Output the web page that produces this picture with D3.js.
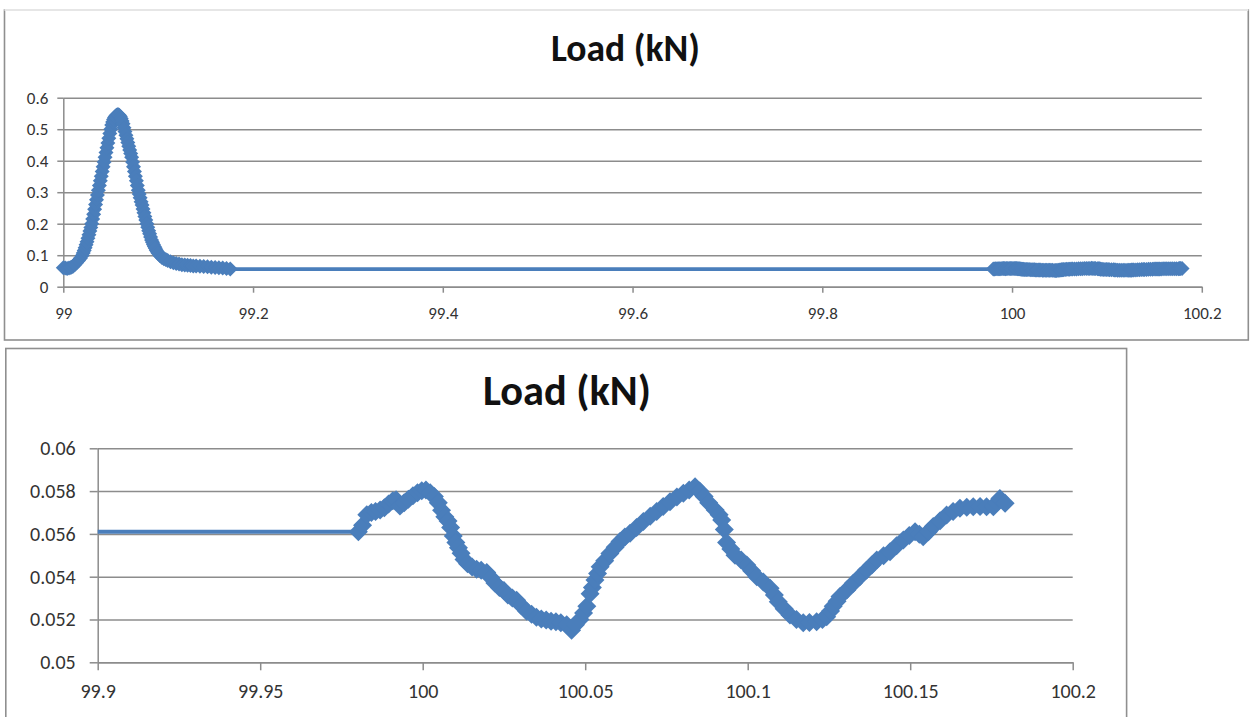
<!DOCTYPE html>
<html>
<head>
<meta charset="utf-8">
<script src="https://cdn.jsdelivr.net/npm/d3@7"></script>
<style>
  html, body { margin: 0; padding: 0; background: #fff; }
  svg { display: block; }
  text { font-family: Carlito, Calibri, Lato, "Open Sans", sans-serif; }
</style>
</head>
<body>
<svg id="chart" width="1252" height="717"></svg>
<script>
// Load trace: first loading pulse (position in mm, load in kN)
const pulsePosition = [
  99.000, 99.002, 99.004, 99.006, 99.008, 99.010, 99.012, 99.014, 99.016, 99.018,
  99.020, 99.021, 99.022, 99.023, 99.024, 99.025, 99.026, 99.027, 99.028, 99.029,
  99.030, 99.031, 99.032, 99.033, 99.034, 99.035, 99.036, 99.037, 99.038, 99.039,
  99.040, 99.041, 99.042, 99.043, 99.044, 99.045, 99.046, 99.047, 99.048, 99.049,
  99.050, 99.051, 99.052, 99.053, 99.054, 99.055, 99.056, 99.057, 99.058, 99.059,
  99.060, 99.061, 99.062, 99.063, 99.064, 99.065, 99.066, 99.067, 99.068, 99.069,
  99.070, 99.071, 99.072, 99.073, 99.074, 99.075, 99.076, 99.077, 99.078, 99.079,
  99.080, 99.081, 99.082, 99.083, 99.084, 99.085, 99.086, 99.087, 99.088, 99.089,
  99.090, 99.091, 99.092, 99.093, 99.094, 99.095, 99.096, 99.097, 99.098, 99.099,
  99.100, 99.102, 99.104, 99.106, 99.108, 99.110, 99.113, 99.116, 99.119, 99.122,
  99.125, 99.128, 99.131, 99.134, 99.137, 99.140, 99.144, 99.148, 99.152, 99.156,
  99.160, 99.164, 99.168, 99.172, 99.176
];
const pulseLoad = [
  0.060, 0.059, 0.058, 0.059, 0.061, 0.064, 0.070, 0.076, 0.083, 0.090,
  0.099, 0.107, 0.115, 0.124, 0.133, 0.143, 0.154, 0.165, 0.177, 0.188,
  0.200, 0.215, 0.230, 0.246, 0.261, 0.276, 0.291, 0.306, 0.321, 0.336,
  0.351, 0.366, 0.381, 0.396, 0.411, 0.426, 0.441, 0.456, 0.471, 0.486,
  0.500, 0.513, 0.523, 0.531, 0.537, 0.541, 0.544, 0.546, 0.546, 0.544,
  0.540, 0.534, 0.526, 0.517, 0.505, 0.493, 0.481, 0.470, 0.458, 0.446,
  0.434, 0.423, 0.411, 0.396, 0.381, 0.366, 0.351, 0.336, 0.321, 0.306,
  0.294, 0.282, 0.270, 0.259, 0.247, 0.235, 0.223, 0.212, 0.200, 0.189,
  0.178, 0.168, 0.158, 0.148, 0.141, 0.134, 0.128, 0.122, 0.116, 0.111,
  0.106, 0.098, 0.093, 0.089, 0.086, 0.083, 0.079, 0.076, 0.074, 0.072,
  0.070, 0.069, 0.068, 0.067, 0.066, 0.066, 0.065, 0.064, 0.063, 0.062,
  0.061, 0.060, 0.059, 0.058, 0.0561
];

// Load trace: low-level oscillation around 100 mm
const cyclePosition = [
  99.9802, 99.9815, 99.9828, 99.9842, 99.9855, 99.9869, 99.9882, 99.9895, 99.9908, 99.9918,
  99.9930, 99.9943, 99.9956, 99.9970, 99.9984, 99.9997, 100.0010, 100.0023, 100.0036, 100.0048,
  100.0058, 100.0068, 100.0078, 100.0086, 100.0094, 100.0102, 100.0110, 100.0118, 100.0127, 100.0138,
  100.0152, 100.0166, 100.0180, 100.0197, 100.0210, 100.0222, 100.0236, 100.0250, 100.0262, 100.0276,
  100.0289, 100.0303, 100.0320, 100.0335, 100.0350, 100.0365, 100.0380, 100.0395, 100.0410, 100.0425,
  100.0443, 100.0458, 100.0470, 100.0484, 100.0495, 100.0505, 100.0515, 100.0522, 100.0530, 100.0538,
  100.0546, 100.0560, 100.0576, 100.0592, 100.0607, 100.0622, 100.0638, 100.0658, 100.0679, 100.0700,
  100.0720, 100.0740, 100.0761, 100.0782, 100.0802, 100.0820, 100.0838, 100.0852, 100.0866, 100.0880,
  100.0900, 100.0912, 100.0920, 100.0928, 100.0935, 100.0948, 100.0961, 100.0980, 100.0997, 100.1012,
  100.1028, 100.1048, 100.1069, 100.1082, 100.1094, 100.1112, 100.1130, 100.1150, 100.1171, 100.1190,
  100.1212, 100.1230, 100.1243, 100.1255, 100.1263, 100.1275, 100.1284, 100.1305, 100.1325, 100.1345,
  100.1366, 100.1382, 100.1397, 100.1418, 100.1438, 100.1458, 100.1479, 100.1497, 100.1515, 100.1528,
  100.1540, 100.1556, 100.1571, 100.1592, 100.1612, 100.1632, 100.1653, 100.1674, 100.1694, 100.1715,
  100.1735, 100.1756, 100.1766, 100.1776, 100.1792
];
const cycleLoad = [
  0.05610, 0.05640, 0.05690, 0.05700, 0.05705, 0.05712, 0.05722, 0.05740, 0.05755, 0.05760,
  0.05730, 0.05745, 0.05762, 0.05778, 0.05792, 0.05802, 0.05805, 0.05792, 0.05775, 0.05745,
  0.05710, 0.05680, 0.05660, 0.05630, 0.05590, 0.05560, 0.05535, 0.05510, 0.05480, 0.05460,
  0.05445, 0.05435, 0.05430, 0.05420, 0.05395, 0.05370, 0.05350, 0.05335, 0.05315, 0.05300,
  0.05290, 0.05265, 0.05238, 0.05225, 0.05210, 0.05202, 0.05198, 0.05192, 0.05190, 0.05185,
  0.05175, 0.05150, 0.05175, 0.05200, 0.05230, 0.05262, 0.05320, 0.05350, 0.05385, 0.05415,
  0.05447, 0.05475, 0.05508, 0.05538, 0.05565, 0.05585, 0.05603, 0.05630, 0.05658, 0.05682,
  0.05705, 0.05728, 0.05750, 0.05772, 0.05790, 0.05805, 0.05820, 0.05800, 0.05775, 0.05745,
  0.05712, 0.05690, 0.05665, 0.05620, 0.05560, 0.05530, 0.05500, 0.05478, 0.05455, 0.05428,
  0.05400, 0.05375, 0.05346, 0.05315, 0.05283, 0.05250, 0.05221, 0.05200, 0.05185, 0.05186,
  0.05190, 0.05200, 0.05213, 0.05240, 0.05262, 0.05285, 0.05307, 0.05338, 0.05369, 0.05400,
  0.05431, 0.05455, 0.05478, 0.05498, 0.05517, 0.05545, 0.05571, 0.05592, 0.05610, 0.05598,
  0.05587, 0.05610, 0.05634, 0.05662, 0.05688, 0.05705, 0.05720, 0.05725, 0.05727, 0.05728,
  0.05727, 0.05727, 0.05745, 0.05766, 0.05743
];

// Axis ticks for the overview and the zoomed view
const overviewXTicks = [99, 99.2, 99.4, 99.6, 99.8, 100, 100.2];
const overviewYTicks = [0, 0.1, 0.2, 0.3, 0.4, 0.5, 0.6];
const detailXTicks = [99.9, 99.95, 100, 100.05, 100.1, 100.15, 100.2];
const detailYTicks = [0.05, 0.052, 0.054, 0.056, 0.058, 0.06];
const chartTitle = "Load (kN)";

// One series built from both segments
const samples = pulsePosition.map((p, i) => ({ x: p, y: pulseLoad[i] }))
  .concat(cyclePosition.map((p, i) => ({ x: p, y: cycleLoad[i] })));

const SERIES = "#4a7ebb";
const GRID = "#8c8c8c";
const LABEL = "#333";

const svg = d3.select("#chart");
svg.append("rect").attr("width", 1252).attr("height", 717).attr("fill", "#fff");

const fmt = v => String(+v.toFixed(4));

function diamond(r) {
  return `M0,${-r}L${r},0L0,${r}L${-r},0Z`;
}

function drawPanel(cfg, id) {
  const g = svg.append("g");

  // chart frame
  g.append("rect")
    .attr("x", cfg.frame[0]).attr("y", cfg.frame[1])
    .attr("width", cfg.frame[2]).attr("height", cfg.frame[3])
    .attr("fill", "#fff").attr("stroke", "#8f8f8f").attr("stroke-width", 1.6);
  if (cfg.lightTop) {
    g.append("line")
      .attr("x1", cfg.frame[0]).attr("x2", cfg.frame[0] + cfg.frame[2])
      .attr("y1", cfg.frame[1]).attr("y2", cfg.frame[1])
      .attr("stroke", "#e6e6e6").attr("stroke-width", 1.8);
  }

  const x = d3.scaleLinear().domain(cfg.xDomain).range([cfg.left, cfg.right]);
  const y = d3.scaleLinear().domain(cfg.yDomain).range([cfg.bottom, cfg.top]);

  // horizontal gridlines
  g.append("g")
    .attr("transform", `translate(${cfg.left},0)`)
    .call(d3.axisLeft(y).tickValues(cfg.yTicks).tickSize(-(cfg.right - cfg.left)).tickFormat(""))
    .call(s => s.select(".domain").remove())
    .call(s => s.selectAll("line").attr("stroke", GRID).attr("stroke-width", 1.5));

  // y axis
  const ya = g.append("g")
    .attr("transform", `translate(${cfg.left},0)`)
    .call(d3.axisLeft(y).tickValues(cfg.yTicks).tickSize(cfg.tick).tickSizeOuter(0)
      .tickPadding(cfg.yPad).tickFormat(fmt));
  ya.select(".domain").attr("stroke", GRID).attr("stroke-width", 1.5);
  ya.selectAll("line").attr("stroke", GRID).attr("stroke-width", 1.5);
  ya.selectAll("text").attr("fill", LABEL).attr("font-size", cfg.labelSize);

  // x axis
  const xa = g.append("g")
    .attr("transform", `translate(0,${cfg.bottom})`)
    .call(d3.axisBottom(x).tickValues(cfg.xTicks).tickSize(cfg.tick).tickSizeOuter(0)
      .tickPadding(cfg.xPad).tickFormat(fmt));
  xa.select(".domain").attr("stroke", GRID).attr("stroke-width", 1.5);
  xa.selectAll("line").attr("stroke", GRID).attr("stroke-width", 1.5);
  xa.selectAll("text").attr("fill", LABEL).attr("font-size", cfg.labelSize);

  // title, sized to its box width
  const t = g.append("text")
    .attr("x", cfg.titleX).attr("y", cfg.titleY)
    .attr("text-anchor", "middle").attr("font-weight", "bold")
    .attr("fill", "#111").attr("font-size", 30).text(chartTitle);
  const w = t.node().getComputedTextLength();
  t.attr("font-size", 30 * cfg.titleWidth / w);

  // series: line with diamond markers
  const series = g.append("g");
  if (cfg.clip) {
    svg.append("clipPath").attr("id", id)
      .append("rect")
      .attr("x", cfg.left).attr("y", cfg.frame[1])
      .attr("width", cfg.right - cfg.left).attr("height", 717 - cfg.frame[1]);
    series.attr("clip-path", `url(#${id})`);
  }
  series.append("path")
    .datum(samples)
    .attr("fill", "none").attr("stroke", SERIES)
    .attr("stroke-width", cfg.lineWidth).attr("stroke-linejoin", "round")
    .attr("d", d3.line().x(d => x(d.x)).y(d => y(d.y)));
  series.selectAll("path.mk")
    .data(samples.filter(d => d.x >= cfg.xDomain[0] - 0.01 && d.x <= cfg.xDomain[1] + 0.01))
    .join("path").attr("class", "mk")
    .attr("transform", d => `translate(${x(d.x)},${y(d.y)})`)
    .attr("d", diamond(cfg.marker))
    .attr("fill", SERIES);
}

drawPanel({
  frame: [4.5, 10, 1243.8, 330],
  lightTop: true,
  left: 63.3, right: 1201.8, top: 97.7, bottom: 286.7,
  xDomain: [99, 100.2], yDomain: [0, 0.6],
  xTicks: overviewXTicks, yTicks: overviewYTicks,
  tick: 6, yPad: 9, xPad: 14, labelSize: 17,
  titleX: 625.5, titleY: 61, titleWidth: 149,
  lineWidth: 3.8, marker: 7.5, clip: false
}, "clip-overview");

drawPanel({
  frame: [5.8, 348.5, 1120.8, 400],
  lightTop: false,
  left: 97.7, right: 1072.7, top: 448.3, bottom: 662.3,
  xDomain: [99.9, 100.2], yDomain: [0.05, 0.06],
  xTicks: detailXTicks, yTicks: detailYTicks,
  tick: 8, yPad: 14, xPad: 14, labelSize: 20,
  titleX: 567, titleY: 405, titleWidth: 168,
  lineWidth: 4, marker: 9.5, clip: true
}, "clip-detail");
</script>
</body>
</html>
